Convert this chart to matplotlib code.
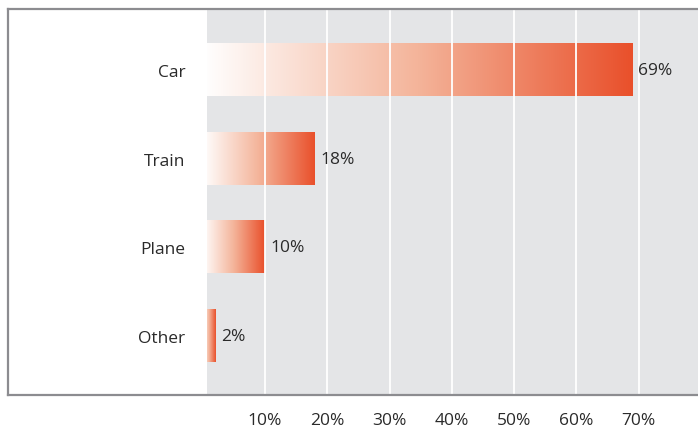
import numpy as np
import matplotlib
matplotlib.use('Agg')
import matplotlib.pyplot as plt
from matplotlib.colors import LinearSegmentedColormap
from matplotlib.lines import Line2D

# Data
modes = ['Car', 'Train', 'Plane', 'Other']
shares = [69, 18, 10, 2]
ticks = [10, 20, 30, 40, 50, 60, 70]
tick_labels = ['10%', '20%', '30%', '40%', '50%', '60%', '70%']

plt.rcParams['font.family'] = ['Open Sans', 'DejaVu Sans']

fig = plt.figure(figsize=(6.98, 4.35), dpi=100)
ax = fig.add_axes([207/698, 1 - 395/435, 1 - 207/698, 385/435])
ax.set_facecolor('#e4e5e7')

cmap = LinearSegmentedColormap.from_list('fade', ['#ffffff', '#f4b49a', '#e9502b'])
grad = np.linspace(0, 1, 256).reshape(1, -1)
bar_h = 0.59

for i, (m, v) in enumerate(zip(modes, shares)):
    ax.imshow(grad, cmap=cmap, aspect='auto', zorder=2,
              extent=[0, v, i + bar_h / 2, i - bar_h / 2])
    ax.text(v + 0.9, i, '%d%%' % v, va='center', ha='left',
            fontsize=12.5, color='#2a2a2a', zorder=5)

for t in ticks:
    ax.axvline(t, color='white', lw=1.3, zorder=3)

ax.set_xlim(0.7, 79.5)
ax.set_ylim(3.66, -0.69)
ax.set_yticks(range(len(modes)))
ax.set_yticklabels(modes, fontsize=12.5, color='#2a2a2a')
ax.set_xticks(ticks)
ax.set_xticklabels(tick_labels, fontsize=12.5, color='#2a2a2a')
ax.tick_params(axis='y', length=0, pad=15.5)
ax.tick_params(axis='x', length=0, pad=13)
for s in ax.spines.values():
    s.set_visible(False)

# outer frame (left, top, bottom)
fc = '#8c8c90'
W, H = 698.0, 435.0
fig.add_artist(Line2D([8/W, 8/W], [1 - 396/H, 1 - 10/H], color=fc, lw=1.6))
fig.add_artist(Line2D([8/W, 1], [1 - 10/H, 1 - 10/H], color=fc, lw=1.6))
fig.add_artist(Line2D([8/W, 1], [1 - 396/H, 1 - 396/H], color=fc, lw=1.6))

fig.savefig('out.png', dpi=100)
